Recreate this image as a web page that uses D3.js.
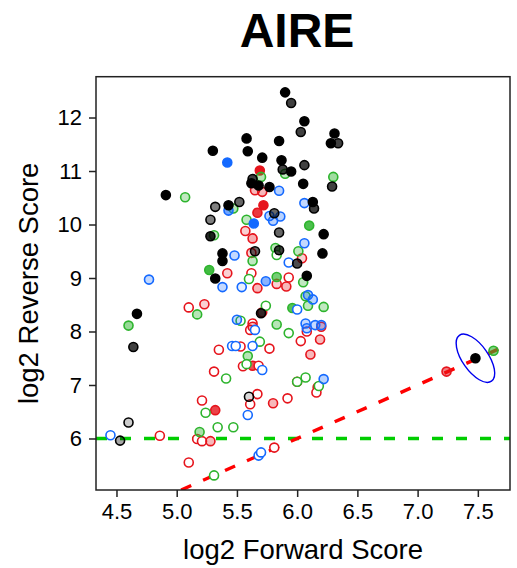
<!DOCTYPE html>
<html>
<head>
<meta charset="utf-8">
<title>AIRE</title>
<script src="https://d3js.org/d3.v7.min.js"></script>
<style>
  body { margin: 0; background: #fff; }
  text { font-family: "Liberation Sans", Arial, Helvetica, sans-serif; fill: #000; }
</style>
</head>
<body>
<div id="chart"></div>
<script>
// [log2 forward, log2 reverse, fill strength 0..1]
var blackPts = [
  [5.90,12.47,1],[5.95,12.27,.75],[6.06,11.93,1],[6.03,11.73,.75],[5.85,11.56,1],
  [6.31,11.70,1],[6.28,11.52,1],[6.34,11.52,.75],[5.71,11.25,1],[5.87,11.20,1],
  [5.88,11.03,.75],[5.95,10.99,1],[6.06,11.11,.75],[6.29,10.71,.75],[6.05,10.76,1],
  [5.77,10.70,1],[6.13,10.42,1],[6.14,10.30,.75],[5.58,11.61,1],[5.30,11.38,1],
  [5.59,11.37,1],[5.63,10.85,.75],[5.62,10.77,1],[5.68,10.73,1],[5.32,10.33,.5],
  [5.43,10.36,1],[5.52,10.42,.6],[5.28,10.09,.5],[4.91,10.55,1],[5.28,9.78,.85],
  [5.38,9.46,1],[5.38,9.32,1],[5.65,9.50,.6],[5.85,9.85,.6],[5.85,9.52,.75],
  [6.00,9.27,.7],[6.22,9.82,1],[6.21,9.46,1],[6.08,9.04,1],[5.32,8.99,1],
  [5.70,8.34,.8],[4.67,8.33,1],[4.64,7.71,.75],[4.60,6.30,.2],[4.53,5.96,.35],
  [5.60,6.78,.15],[7.48,7.50,1],[5.81,10.21,.6]
];
var bluePts = [
  [5.42,11.16,1],[5.43,10.26,.6],[5.85,10.63,.3],[6.06,10.40,.25],[5.64,10.02,1],
  [5.77,10.16,.3],[5.86,10.15,.3],[5.80,10.07,.3],[6.06,9.65,.25],[5.48,9.42,.25],
  [5.93,9.29,0],[5.38,8.83,.25],[5.54,8.83,.1],[5.74,8.94,.5],[4.77,8.97,.25],
  [6.09,8.68,.3],[6.13,8.60,.3],[6.00,8.41,0],[5.50,8.22,.25],[5.65,8.03,0],
  [6.07,8.15,.25],[6.08,8.06,.25],[6.15,8.12,.25],[6.20,8.12,.25],[5.46,7.73,0],
  [5.49,7.73,0],[5.63,7.73,0],[5.71,7.28,0],[6.22,7.11,.3],[5.59,6.44,0],
  [5.68,5.68,0],[5.70,5.74,0],[4.45,6.06,0]
];
var redPts = [
  [5.69,11.01,1],[5.65,10.64,.3],[5.71,10.61,.3],[5.72,10.36,1],[5.67,10.22,.85],
  [5.57,9.88,.2],[5.63,9.74,.35],[5.62,9.47,.2],[6.04,9.37,.2],[5.42,9.09,.2],
  [5.62,9.09,0],[5.67,8.81,.3],[5.83,8.89,.2],[5.93,9.01,0],[5.91,8.84,.3],
  [5.23,8.51,.2],[5.10,8.45,0],[5.71,8.36,.3],[5.63,8.15,0],[5.61,8.03,0],
  [5.63,8.09,.3],[6.20,8.09,.3],[6.08,8.00,0],[6.03,7.82,0],[6.19,7.85,.3],
  [6.11,7.57,.3],[5.35,7.66,0],[5.53,7.72,0],[5.77,7.68,0],[5.55,7.35,0],
  [5.63,7.36,.75],[5.68,7.36,0],[5.31,7.25,0],[6.00,7.06,0],[6.17,6.96,.3],
  [6.16,6.86,0],[5.92,6.75,0],[5.67,6.83,0],[5.61,6.64,0],[5.80,6.66,.3],
  [5.21,6.71,0],[5.32,6.53,.8],[4.86,6.05,0],[5.17,5.99,0],[5.21,5.95,0],
  [5.28,5.95,.3],[5.10,5.55,0],[5.81,5.83,0],[7.24,7.25,.55]
];
var greenPts = [
  [5.70,10.89,.35],[5.90,10.95,.3],[6.30,10.89,.45],[5.47,10.30,.35],[5.07,10.51,.3],
  [5.58,10.09,.3],[6.10,9.98,.85],[5.31,9.80,.3],[5.82,9.56,.35],[5.83,9.43,0],
  [5.63,9.32,.3],[6.01,9.50,.3],[5.27,9.15,.9],[5.60,8.98,0],[5.83,9.02,.65],
  [6.05,8.92,.3],[5.17,8.32,.35],[4.60,8.11,.5],[5.74,8.48,0],[6.07,8.66,.3],
  [6.09,8.48,.3],[6.22,8.46,.3],[5.96,8.44,.8],[5.53,8.20,0],[5.83,8.13,.35],
  [5.93,7.97,0],[5.59,7.54,.35],[5.58,7.39,0],[5.41,7.12,0],[6.00,7.06,0],
  [6.07,7.14,0],[6.18,6.98,0],[5.69,7.81,0],[5.24,6.48,0],[5.34,6.21,0],
  [5.47,6.21,0],[5.19,6.12,.4],[5.31,5.31,0],[7.63,7.64,.6]
];

var xTicks = [4.5, 5.0, 5.5, 6.0, 6.5, 7.0, 7.5];
var yTicks = [6, 7, 8, 9, 10, 11, 12];
var xDomain = [4.33, 7.767];
var yDomain = [5.037, 12.763];
var cutoff = 6;            // horizontal reference
var ellipseAt = [7.48, 7.50];

var width = 517, height = 568;
var plot = {left: 96, right: 510, top: 76.7, bottom: 490};

var svg = d3.select('#chart').append('svg')
  .attr('width', width).attr('height', height);

var x = d3.scaleLinear().domain(xDomain).range([plot.left, plot.right]);
var y = d3.scaleLinear().domain(yDomain).range([plot.bottom, plot.top]);

// clip for lines
svg.append('clipPath').attr('id', 'clip')
  .append('rect')
  .attr('x', plot.left).attr('y', plot.top)
  .attr('width', plot.right - plot.left).attr('height', plot.bottom - plot.top);

// reference lines
svg.append('line')
  .attr('clip-path', 'url(#clip)')
  .attr('x1', x(xDomain[0])).attr('x2', x(xDomain[1]))
  .attr('y1', y(cutoff)).attr('y2', y(cutoff))
  .attr('stroke', '#00cd00').attr('stroke-width', 3.4)
  .attr('stroke-dasharray', '11,13');

svg.append('line')
  .attr('clip-path', 'url(#clip)')
  .attr('x1', x(yDomain[0])).attr('y1', y(yDomain[0]))
  .attr('x2', x(xDomain[1])).attr('y2', y(xDomain[1]))
  .attr('stroke', '#ff0000').attr('stroke-width', 3.4)
  .attr('stroke-dasharray', '11,13');

var colors = {black: '#000000', blue: '#1469ff', red: '#e6141c', green: '#2db42d'};

function fillOf(c, a) {
  var rgb = d3.rgb(c);
  return 'rgba(' + rgb.r + ',' + rgb.g + ',' + rgb.b + ',' + a + ')';
}

var series = [
  {name: 'red', pts: redPts},
  {name: 'green', pts: greenPts},
  {name: 'blue', pts: bluePts},
  {name: 'black', pts: blackPts}
];

var pts = svg.append('g');
series.forEach(function (s) {
  pts.selectAll(null)
    .data(s.pts)
    .enter()
    .append('circle')
    .attr('cx', function (d) { return x(d[0]); })
    .attr('cy', function (d) { return y(d[1]); })
    .attr('r', 4.5)
    .attr('fill', function (d) { return d[2] > 0 ? fillOf(colors[s.name], d[2]) : '#ffffff'; })
    .attr('stroke', colors[s.name])
    .attr('stroke-width', 1.6);
});

// highlight ellipse
svg.append('ellipse')
  .attr('transform', 'translate(' + x(ellipseAt[0]) + ',' + y(ellipseAt[1]) + ') rotate(55)')
  .attr('rx', 28).attr('ry', 13)
  .attr('fill', 'none').attr('stroke', '#0000ee').attr('stroke-width', 1.4);

// frame
svg.append('rect')
  .attr('x', plot.left).attr('y', plot.top)
  .attr('width', plot.right - plot.left).attr('height', plot.bottom - plot.top)
  .attr('fill', 'none').attr('stroke', '#222').attr('stroke-width', 1.5);

// axes
var xAxis = svg.append('g')
  .attr('transform', 'translate(0,' + plot.bottom + ')')
  .call(d3.axisBottom(x).tickValues(xTicks).tickFormat(d3.format('.1f')).tickSize(7).tickPadding(6));
var yAxis = svg.append('g')
  .attr('transform', 'translate(' + plot.left + ',0)')
  .call(d3.axisLeft(y).tickValues(yTicks).tickFormat(d3.format('d')).tickSize(7).tickPadding(7));

[xAxis, yAxis].forEach(function (a) {
  a.select('.domain').remove();
  a.selectAll('.tick line').attr('stroke', '#222').attr('stroke-width', 1.5);
  a.selectAll('.tick text').attr('font-size', 22).attr('fill', '#000')
    .style('font-family', '"Liberation Sans", Arial, sans-serif');
});

// titles
svg.append('text')
  .attr('x', 297).attr('y', 47)
  .attr('text-anchor', 'middle')
  .attr('font-size', 48).attr('font-weight', 'bold')
  .text('AIRE');

svg.append('text')
  .attr('x', (plot.left + plot.right) / 2).attr('y', 559)
  .attr('text-anchor', 'middle')
  .attr('font-size', 27.5)
  .text('log2 Forward Score');

svg.append('text')
  .attr('transform', 'translate(38,' + (plot.top + plot.bottom) / 2 + ') rotate(-90)')
  .attr('text-anchor', 'middle')
  .attr('font-size', 27.5)
  .text('log2 Reverse Score');
</script>
</body>
</html>
